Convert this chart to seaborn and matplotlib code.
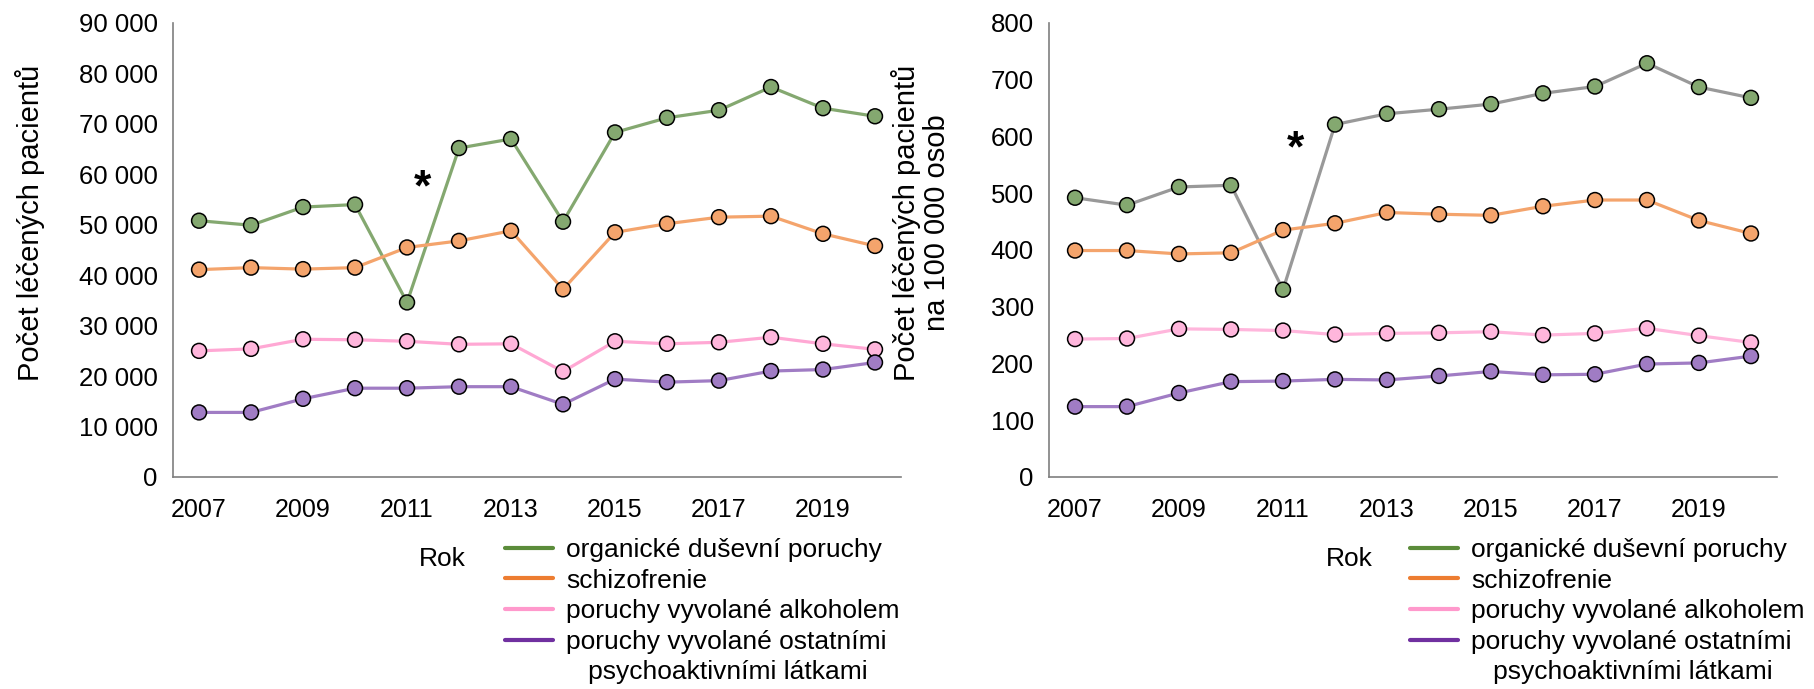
import matplotlib
matplotlib.use("Agg")
import matplotlib.pyplot as plt
from matplotlib.lines import Line2D
from matplotlib.ticker import FuncFormatter, MultipleLocator
import pandas as pd
import seaborn as sns

years = list(range(2007, 2021))

groups = [
    "organické duševní poruchy",
    "schizofrenie",
    "poruchy vyvolané alkoholem",
    "poruchy vyvolané ostatními\n   psychoaktivními látkami",
]

# počet léčených pacientů
abs_organic = [50800, 49900, 53500, 54000, 34600, 65200, 67000, 50600, 68300, 71200, 72700, 77300, 73100, 71500]
abs_schizo = [41100, 41500, 41200, 41500, 45500, 46800, 48800, 37200, 48500, 50200, 51500, 51700, 48200, 45800]
abs_alcohol = [25000, 25400, 27300, 27200, 26900, 26300, 26400, 20900, 26900, 26400, 26700, 27700, 26400, 25300]
abs_other = [12800, 12800, 15500, 17600, 17600, 17900, 17900, 14400, 19400, 18800, 19100, 21000, 21300, 22700]

# na 100 000 osob
rate_organic = [492, 479, 511, 514, 330, 621, 640, 648, 657, 676, 688, 729, 687, 668]
rate_schizo = [399, 399, 393, 395, 435, 447, 466, 463, 461, 477, 488, 488, 452, 429]
rate_alcohol = [243, 244, 261, 260, 258, 251, 253, 254, 256, 250, 253, 262, 249, 237]
rate_other = [124, 124, 148, 168, 169, 172, 171, 178, 186, 180, 181, 199, 201, 213]

legend_colors = ["#5b8c3a", "#ed7d31", "#ff99cc", "#7030a0"]
marker_colors = ["#84a870", "#f4a46c", "#ffb6dc", "#a07cc4"]
line_left = ["#84a870", "#f4a46c", "#ffa8d4", "#a07cc4"]
line_right = ["#999999", "#f4a46c", "#ffb6dc", "#a07cc4"]


def make_df(series):
    rows = []
    for g, vals in zip(groups, series):
        for y, v in zip(years, vals):
            rows.append({"Rok": y, "skupina": g, "hodnota": v})
    return pd.DataFrame(rows)


def draw(ax, df, line_colors, ymax, ystep):
    sns.lineplot(data=df, x="Rok", y="hodnota", hue="skupina", hue_order=groups,
                 palette=line_colors, linewidth=2.3, legend=False, ax=ax, zorder=2)
    sns.scatterplot(data=df, x="Rok", y="hodnota", hue="skupina", hue_order=groups,
                    palette=marker_colors, s=115, edgecolor="black", linewidth=1.1,
                    legend=False, ax=ax, zorder=3)
    ax.set_xlim(2006.5, 2020.5)
    ax.set_ylim(0, ymax)
    ax.yaxis.set_major_locator(MultipleLocator(ystep))
    ax.yaxis.set_major_formatter(FuncFormatter(lambda v, p: f"{int(v):,}".replace(",", " ")))
    ax.set_xticks(years[::2])
    ax.set_xticklabels([str(y) for y in years[::2]])
    ax.set_xticks([y - 0.5 for y in years] + [years[-1] + 0.5], minor=True)
    ax.tick_params(axis="x", which="major", length=0, pad=15, labelsize=18, labelcolor="black")
    ax.tick_params(axis="x", which="minor", length=6, width=1, color="#7f7f7f", direction="out")
    ax.tick_params(axis="y", length=6, width=1, color="#7f7f7f", direction="out",
                   labelsize=18.5, labelcolor="black", pad=5)
    for side in ["top", "right"]:
        ax.spines[side].set_visible(False)
    for side in ["left", "bottom"]:
        ax.spines[side].set_color("#7f7f7f")
        ax.spines[side].set_linewidth(1.2)
    ax.set_xlabel("")
    ax.grid(False)


sns.set_style("white")
plt.rcParams["font.family"] = ["Liberation Sans", "DejaVu Sans"]
plt.rcParams["text.color"] = "black"
plt.rcParams["axes.labelcolor"] = "black"

fig = plt.figure(figsize=(18.14, 6.89), dpi=100)
ax1 = fig.add_axes([0.0954, 0.3077, 0.4013, 0.659])
ax2 = fig.add_axes([0.5783, 0.3077, 0.4013, 0.659])

draw(ax1, make_df([abs_organic, abs_schizo, abs_alcohol, abs_other]), line_left, 90000, 10000)
draw(ax2, make_df([rate_organic, rate_schizo, rate_alcohol, rate_other]), line_right, 800, 100)

ax1.set_ylabel("Počet léčených pacientů", fontsize=21)
ax1.yaxis.set_label_coords(-0.176, 0.56)
ax2.set_ylabel("Počet léčených pacientů\nna 100 000 osob", fontsize=21, linespacing=1.1)
ax2.yaxis.set_label_coords(-0.135, 0.56)

star_size = 32
for ax, x, y in [(ax1, 2011.30, 58900), (ax2, 2011.23, 592)]:
    ax.annotate("*", xy=(x, y), xytext=(0, -0.47 * star_size), textcoords="offset points",
                fontsize=star_size, fontweight="bold", ha="center", va="baseline")

# legenda: druhý řádek poslední položky jako samostatný řádek bez čáry
legend_labels = []
handles = []
for g, c in zip(groups, legend_colors):
    parts = g.split("\n")
    legend_labels.append(parts[0])
    handles.append(Line2D([], [], color=c, linewidth=3))
    for extra in parts[1:]:
        legend_labels.append(extra)
        handles.append(Line2D([], [], color="none"))

for ax, lx, rx in [(ax1, 0.2785, 0.244), (ax2, 0.7775, 0.744)]:
    ax.legend(handles, legend_labels, loc="upper left", bbox_to_anchor=(lx, 0.219),
              bbox_transform=fig.transFigure, frameon=False, fontsize=19,
              handlelength=1.8, handletextpad=0.5, labelspacing=0.25,
              borderpad=0, borderaxespad=0)
    fig.text(rx, 0.189, "Rok", fontsize=19, ha="center", va="center")

fig.savefig("out.png", dpi=100)
